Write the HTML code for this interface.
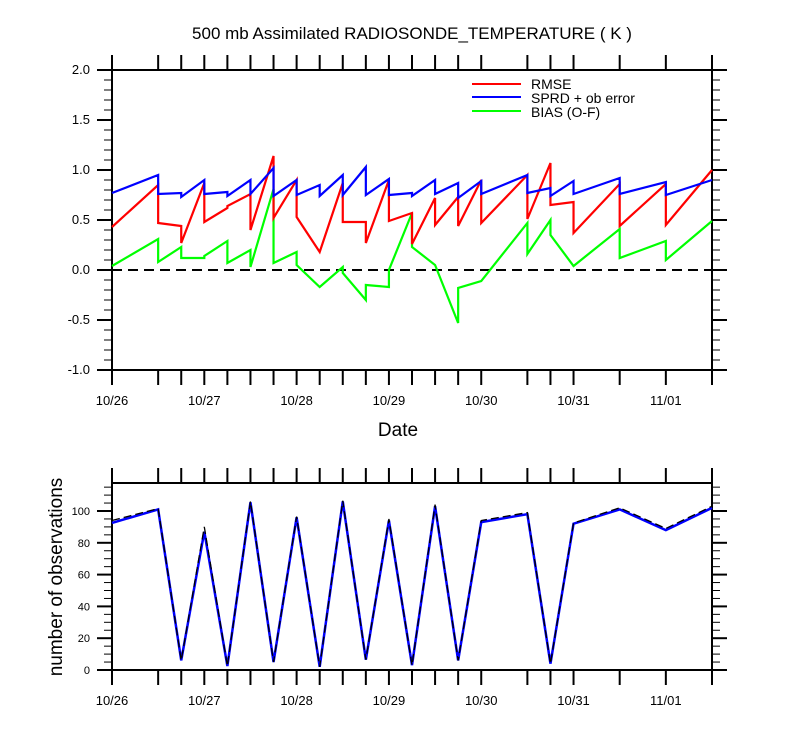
<!DOCTYPE html>
<html><head><meta charset="utf-8"><style>
body{margin:0;background:#fff;}
svg{display:block;font-family:"Liberation Sans",sans-serif;}
</style></head><body>
<svg id="chart" width="800" height="750" viewBox="0 0 800 750">
<text x="412" y="39" text-anchor="middle" font-size="17">500 mb Assimilated RADIOSONDE_TEMPERATURE ( K )</text>
<text x="398" y="436" text-anchor="middle" font-size="19">Date</text>
<text transform="translate(62,577) rotate(-90)" text-anchor="middle" font-size="19">number of observations</text>
<g id="topPanel"></g>
<g id="botPanel"></g>
<g>
<line x1="472" y1="84" x2="521" y2="84" stroke="#f00" stroke-width="2"/>
<text x="531" y="89" font-size="14">RMSE</text>
<line x1="472" y1="97" x2="521" y2="97" stroke="#00f" stroke-width="2"/>
<text x="531" y="103" font-size="14">SPRD + ob error</text>
<line x1="472" y1="111" x2="521" y2="111" stroke="#0f0" stroke-width="2"/>
<text x="531" y="117" font-size="14">BIAS (O-F)</text>
</g>
</svg>
<script>
// time points (hours since 10/26 00Z)
const times = [0,12,18,24,30,36,42,48,54,60,66,72,78,84,90,96,108,114,120,132,144,156];
const dateLabels = ["10/26","10/27","10/28","10/29","10/30","10/31","11/01"];
const dateHours = [0,24,48,72,96,120,144];
// per-segment start/end values (segment i spans times[i]..times[i+1])
const rmseStart = [0.43,0.47,0.27,0.48,0.64,0.40,0.52,0.53,0.18,0.48,0.27,0.49,0.26,0.45,0.44,0.47,0.51,0.65,0.37,0.44,0.45];
const rmseEnd   = [0.85,0.44,0.87,0.62,0.76,1.14,0.90,0.18,0.87,0.48,0.90,0.57,0.72,0.73,0.90,0.95,1.07,0.68,0.86,0.86,1.00];
const sprdStart = [0.77,0.76,0.73,0.76,0.74,0.76,0.74,0.75,0.74,0.75,0.75,0.75,0.74,0.76,0.72,0.76,0.77,0.74,0.76,0.76,0.75];
const sprdEnd   = [0.95,0.77,0.90,0.78,0.90,1.02,0.90,0.85,0.95,1.03,0.91,0.77,0.90,0.87,0.89,0.95,0.82,0.89,0.92,0.88,0.90];
const biasStart = [0.04,0.08,0.12,0.14,0.07,0.03,0.07,0.05,-0.17,-0.03,-0.15,0.00,0.23,0.05,-0.18,-0.11,0.16,0.35,0.04,0.12,0.10];
const biasEnd   = [0.31,0.23,0.12,0.29,0.20,0.81,0.18,-0.17,0.03,-0.30,-0.17,0.57,0.05,-0.53,-0.11,0.47,0.50,0.04,0.41,0.29,0.49];
const obsAssim = [92.5,101,6,87,2.5,105.5,5,96,2,106,6.5,94,3,103,6,93,98,4,92,101,88,102];
const obsTotal = [94,101.5,6,90,2.5,106,5,96.5,2,106.5,6.5,95,3,104,6,94,99,4,92.5,102,89,103];
const topTicks = [-1.0,-0.5,0.0,0.5,1.0,1.5,2.0];
const botTicks = [0,20,40,60,80,100];

const NS="http://www.w3.org/2000/svg";
const L=112,R=712;
const X=h=>L+h/156*(R-L);
const YT=v=>270-v*100;
const YB=v=>670-v*1.59;
function mk(tag,attrs,parent){const e=document.createElementNS(NS,tag);for(const k in attrs)e.setAttribute(k,attrs[k]);parent.appendChild(e);return e;}
const topG=document.getElementById('topPanel'), botG=document.getElementById('botPanel');

function frame(g,y0,y1,minVals,majVals,Y,labVals,fmt,name){
  const r=mk('rect',{x:L,y:y0,width:R-L,height:y1-y0,fill:'none',stroke:'#000','stroke-width':2},g);
  
  
  minVals.forEach(v=>{const y=Y(v);
    mk('line',{x1:L-8,y1:y,x2:L,y2:y,stroke:'#000','stroke-width':1},g);
    mk('line',{x1:R,y1:y,x2:R+8,y2:y,stroke:'#000','stroke-width':1},g);});
  majVals.forEach(v=>{const y=Y(v);
    mk('line',{x1:L-15,y1:y,x2:L,y2:y,stroke:'#000','stroke-width':2},g);
    mk('line',{x1:R,y1:y,x2:R+15,y2:y,stroke:'#000','stroke-width':2},g);});
  labVals.forEach(v=>{const t=mk('text',{x:L-22,y:Y(v)+4,'text-anchor':'end','font-size':y1-y0>250?13:11},g);t.textContent=fmt(v);
    
    });
  times.forEach(h=>{const x=X(h);
    mk('line',{x1:x,y1:y0-15,x2:x,y2:y0,stroke:'#000','stroke-width':2},g);
    mk('line',{x1:x,y1:y1,x2:x,y2:y1+15,stroke:'#000','stroke-width':2},g);});
  dateHours.forEach((h,i)=>{const t=mk('text',{x:X(h),y:y1+35,'text-anchor':'middle','font-size':13},g);t.textContent=dateLabels[i];
    
    });
}
const tmin=[],tmaj=[];for(let i=-10;i<=20;i++){(i%5===0?tmaj:tmin).push(i/10);}
frame(topG,70,370,tmin,tmaj,YT,topTicks,v=>v.toFixed(1),'top');
const bmin=[],bmaj=[];for(let v=0;v<=115;v+=5){(v%20===0?bmaj:bmin).push(v);}
frame(botG,483,670,bmin,bmaj,YB,botTicks,v=>String(v),'bottom');

const zl=mk('line',{x1:L,y1:YT(0),x2:R,y2:YT(0),stroke:'#000','stroke-width':2,'stroke-dasharray':'10,6'},topG);



function saw(s,e,col,name){
  let p=[];for(let i=0;i<s.length;i++){p.push(X(times[i])+','+YT(s[i]));p.push(X(times[i+1])+','+YT(e[i]));}
  const pl=mk('polyline',{points:p.join(' '),fill:'none',stroke:col,'stroke-width':2.2},topG);
  
  
}
saw(biasStart,biasEnd,'#0f0','bias-line');
saw(rmseStart,rmseEnd,'#f00','rmse-line');
saw(sprdStart,sprdEnd,'#00f','sprd-line');

const pa=mk('polyline',{points:obsAssim.map((v,i)=>X(times[i])+','+YB(v)).join(' '),fill:'none',stroke:'#00f','stroke-width':2.5},botG);


const pt=mk('polyline',{points:obsTotal.map((v,i)=>X(times[i])+','+YB(v)).join(' '),fill:'none',stroke:'#000','stroke-width':1.3,'stroke-dasharray':'8,4'},botG);


</script>
</body></html>
